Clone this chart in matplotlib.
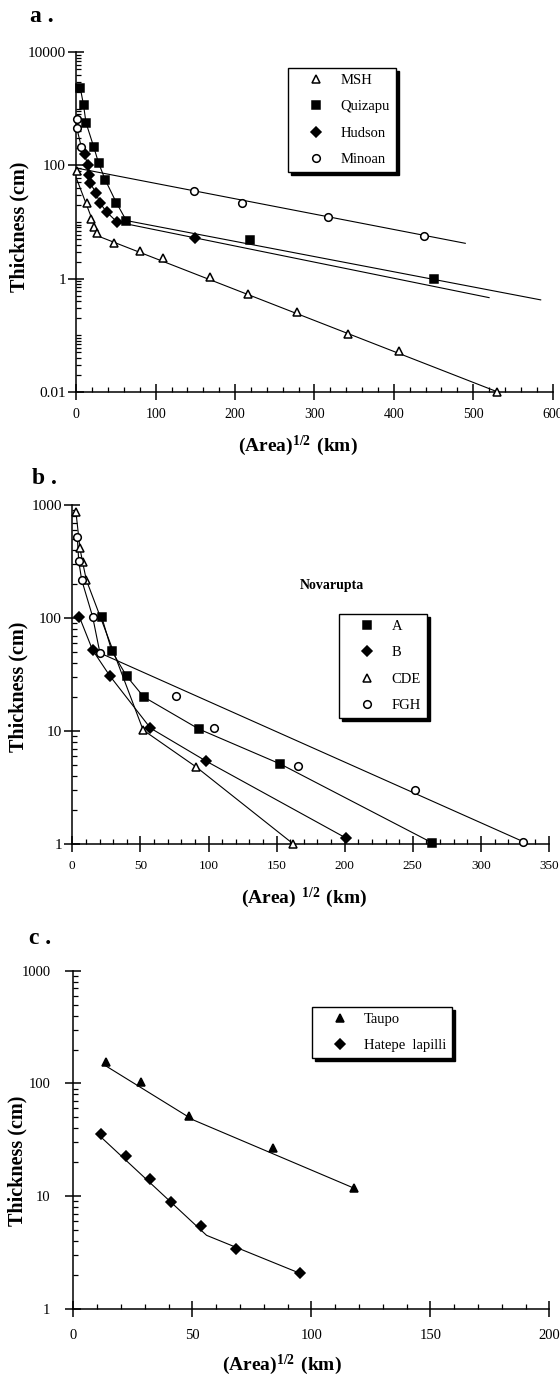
import numpy as np
import matplotlib
matplotlib.use("Agg")
import matplotlib.pyplot as plt
from matplotlib.ticker import FixedLocator, LogLocator, MultipleLocator, FuncFormatter

plt.rcParams['font.family'] = ['Liberation Serif', 'DejaVu Serif']
plt.rcParams['mathtext.fontset'] = 'custom'
plt.rcParams['mathtext.rm'] = 'Liberation Serif'
plt.rcParams['mathtext.bf'] = 'Liberation Serif:bold'

# ---------------- panel a : (Area)^1/2 vs thickness ----------------
msh_x = [0.5, 13.5, 18.9, 21.8, 26, 47, 80, 109, 169, 216, 278, 342, 407, 530]
msh_y = [80, 22, 11.5, 8, 6.3, 4.2, 3.1, 2.3, 1.05, 0.53, 0.26, 0.105, 0.053, 0.01]
msh_fit_x = [0, 28, 530]
msh_fit_y = [60, 5.6, 0.01]

quiz_x = [5, 9.2, 12.2, 21.8, 28.1, 36.6, 50.4, 63, 219, 450]
quiz_y = [2370, 1150, 570, 216, 110, 55, 22, 10.6, 4.8, 0.98]
quiz_fit_x = [5, 9.2, 12.2, 21.8, 28.1, 36.6, 50.4, 63, 585]
quiz_fit_y = [2370, 1150, 570, 216, 110, 55, 22, 10.6, 0.42]

hud_x = [10.5, 14.2, 15.5, 17.6, 24.8, 29.4, 38.2, 51.3, 150]
hud_y = [158, 102, 67, 48, 33, 22, 15, 10, 5.3]
hud_fit_x = [10.5, 14.2, 15.5, 17.6, 24.8, 29.4, 38.2, 51.3, 520]
hud_fit_y = [158, 102, 67, 48, 33, 22, 15, 10, 0.46]

min_x = [0.5, 0.5, 6.3, 148, 209, 317, 438]
min_y = [670, 466, 212, 35, 22, 12.3, 5.7]
min_fit_x = [0, 490]
min_fit_y = [90, 4.2]

# ---------------- panel b : Novarupta ----------------
a_x = [21.5, 29, 39.8, 52.5, 93, 152.8, 263.8]
a_y = [103, 51, 30.7, 20, 10.4, 5.1, 1.03]
b_x = [5.1, 14.9, 27.6, 57.4, 98.4, 200.9]
b_y = [103, 52, 30.7, 10.6, 5.4, 1.13]
cde_x = [2.7, 5.6, 7.6, 10.3, 52, 91, 162.3]
cde_y = [862, 414, 311, 217, 10.2, 4.8, 1.0]
fgh_x = [3.7, 4.7, 6.9, 14.9, 20.3, 76.4, 103.7, 165.5, 251.4, 331]
fgh_y = [518, 319, 217, 103, 49, 20.4, 10.6, 4.9, 3.0, 1.05]
fgh_fit_x = [3.7, 4.7, 6.9, 14.9, 20.3, 331]
fgh_fit_y = [518, 319, 217, 103, 49, 1.05]

# ---------------- panel c : Taupo ----------------
taupo_x = [13.7, 28.3, 48.7, 84, 117.9]
taupo_y = [156, 104, 51.5, 26.7, 11.8]
taupo_fit_x = [13.7, 50.4, 117.9]
taupo_fit_y = [143, 47.5, 11.8]
hatepe_x = [11.6, 22, 32.2, 40.9, 53.5, 68.2, 95.3]
hatepe_y = [35.6, 22.7, 14.1, 8.8, 5.5, 3.4, 2.07]
hatepe_fit_x = [11.6, 56, 95.3]
hatepe_fit_y = [33.5, 4.5, 2.07]

W, H = 560, 1379
fig = plt.figure(figsize=(W / 100, H / 100), dpi=100)


def px_box(x0, y0, x1, y1):
    return [x0 / W, 1 - y1 / H, (x1 - x0) / W, (y1 - y0) / H]


def fx(px):
    return px / W


def fy(py):
    return 1 - py / H


def style(ax, xmax, xmaj, xmin, ylim, yticks, ysize, xsize, ypad, xpad):
    ax.set_xlim(0, xmax)
    ax.set_yscale('log')
    ax.set_ylim(*ylim)
    for s in ['top', 'right']:
        ax.spines[s].set_visible(False)
    for s in ['left', 'bottom']:
        ax.spines[s].set_linewidth(1.1)
    ax.xaxis.set_major_locator(MultipleLocator(xmaj))
    ax.xaxis.set_minor_locator(MultipleLocator(xmin))
    ax.yaxis.set_major_locator(FixedLocator(yticks))
    ax.yaxis.set_minor_locator(LogLocator(base=10, subs=np.arange(1, 10), numticks=100))
    ax.yaxis.set_major_formatter(FuncFormatter(lambda v, _: f"{v:g}"))
    ax.xaxis.set_major_formatter(FuncFormatter(lambda v, _: f"{v:g}"))
    ax.tick_params(which='major', direction='inout', length=11, width=1.1)
    ax.tick_params(which='minor', direction='in', length=3.5, width=0.9)
    ax.tick_params(axis='y', which='minor', labelleft=False)
    ax.tick_params(axis='y', which='major', labelsize=ysize, pad=ypad)
    ax.tick_params(axis='x', which='major', labelsize=xsize, pad=xpad)
    ax.patch.set_alpha(0)


def series(ax, x, y, lx, ly, marker, filled, ms, label):
    ax.plot(lx, ly, color='k', lw=0.8, clip_on=False, zorder=2)
    ax.plot(x, y, ls='none', marker=marker, ms=ms, mec='k',
            mfc='k' if filled else 'w', mew=1.1, clip_on=False, zorder=3,
            label=label)


def legend(ax, x0, y0):
    leg = ax.legend(loc='upper left', bbox_to_anchor=(fx(x0), fy(y0)),
                    bbox_transform=fig.transFigure, borderaxespad=0,
                    fontsize=10.5, numpoints=1, handlelength=3.1,
                    handletextpad=0.1, borderpad=0.4, labelspacing=0.9,
                    fancybox=False, framealpha=1, edgecolor='k',
                    shadow={'color': 'k', 'alpha': 1, 'ox': 2.2, 'oy': -2.2})
    leg.get_frame().set_linewidth(1.0)
    return leg


# ---------- panel a ----------
ax_a = fig.add_axes(px_box(76.3, 52.3, 552.6, 391.7))
style(ax_a, 600, 100, 20, (0.01, 10000), [0.01, 1, 100, 10000], 11, 10, 2, 6)
series(ax_a, msh_x, msh_y, msh_fit_x, msh_fit_y, '^', False, 6, 'MSH')
series(ax_a, quiz_x, quiz_y, quiz_fit_x, quiz_fit_y, 's', True, 5.5, 'Quizapu')
series(ax_a, hud_x, hud_y, hud_fit_x, hud_fit_y, 'D', True, 4.8, 'Hudson')
series(ax_a, min_x, min_y, min_fit_x, min_fit_y, 'o', False, 5.5, 'Minoan')
ax_a.plot(min_x[:3], min_y[:3], color='k', lw=0.8, clip_on=False, zorder=2)
legend(ax_a, 288, 68)

fig.text(fx(30), fy(16), 'a .', fontsize=17, fontweight='bold', ha='left', va='center')
fig.text(fx(19.5), fy(227), 'Thickness (cm)', fontsize=14.5, fontweight='bold',
         rotation=90, ha='center', va='center')
fig.text(fx(298), fy(446), r'$\mathbf{(Area)^{1/2}\ (km)}$', fontsize=14,
         ha='center', va='center')

# ---------- panel b ----------
ax_b = fig.add_axes(px_box(72.3, 505, 549, 844))
style(ax_b, 350, 50, 10, (1, 1000), [1, 10, 100, 1000], 11, 9.5, 2, 6)
series(ax_b, a_x, a_y, a_x, a_y, 's', True, 5.5, 'A')
series(ax_b, b_x, b_y, b_x, b_y, 'D', True, 4.8, 'B')
series(ax_b, cde_x, cde_y, cde_x, cde_y, '^', False, 6, 'CDE')
series(ax_b, fgh_x, fgh_y, fgh_fit_x, fgh_fit_y, 'o', False, 5.5, 'FGH')
legend(ax_b, 339, 614)
fig.text(fx(332), fy(585), 'Novarupta', fontsize=10, fontweight='bold',
         ha='center', va='center')

fig.text(fx(32), fy(478), 'b .', fontsize=17, fontweight='bold', ha='left', va='center')
fig.text(fx(18.5), fy(687), 'Thickness (cm)', fontsize=14.5, fontweight='bold',
         rotation=90, ha='center', va='center')
fig.text(fx(304), fy(898), r'$\mathbf{(Area)\ {}^{1/2}\ (km)}$', fontsize=14,
         ha='center', va='center')

# ---------- panel c ----------
ax_c = fig.add_axes(px_box(73.3, 970.7, 549.3, 1309))
style(ax_c, 200, 50, 10, (1, 1000), [1, 10, 100, 1000], 10.5, 10.5, 11, 9)
series(ax_c, taupo_x, taupo_y, taupo_fit_x, taupo_fit_y, '^', True, 6, 'Taupo')
series(ax_c, hatepe_x, hatepe_y, hatepe_fit_x, hatepe_fit_y, 'D', True, 4.8, 'Hatepe  lapilli')
legend(ax_c, 311.7, 1006.7)

fig.text(fx(29), fy(938), 'c .', fontsize=17, fontweight='bold', ha='left', va='center')
fig.text(fx(17.5), fy(1161), 'Thickness (cm)', fontsize=14.5, fontweight='bold',
         rotation=90, ha='center', va='center')
fig.text(fx(282), fy(1365), r'$\mathbf{(Area)^{1/2}\ (km)}$', fontsize=14,
         ha='center', va='center')

fig.savefig('out.png', dpi=100, facecolor='white')
